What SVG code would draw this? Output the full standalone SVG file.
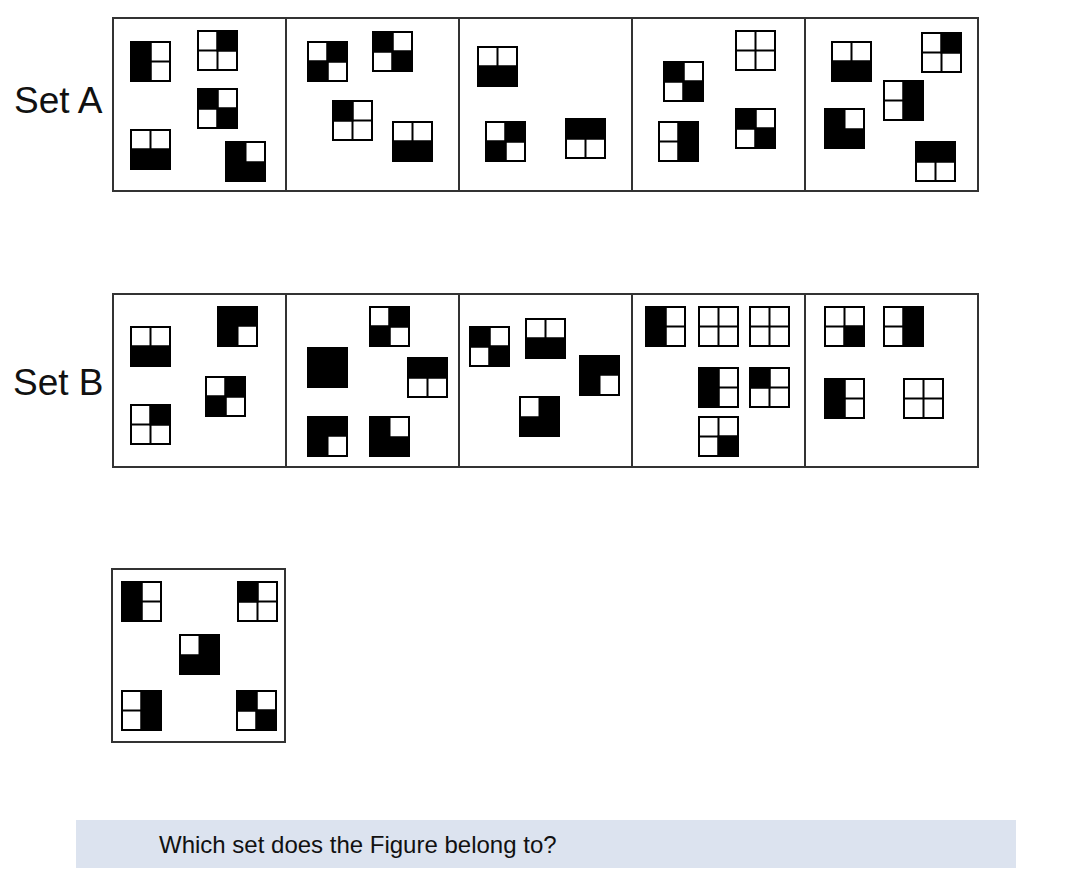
<svg xmlns="http://www.w3.org/2000/svg" xmlns:xlink="http://www.w3.org/1999/xlink" width="1084" height="886" viewBox="0 0 1084 886">
<style>
.panel{fill:#fff;stroke:#333;stroke-width:2}
.lbl{font-family:"Liberation Sans",Arial,sans-serif;font-size:37px;fill:#111}
.q{font-family:"Liberation Sans",Arial,sans-serif;font-size:24px;fill:#111}
.bg{fill:#fff}
.k{fill:#000}
.grid{fill:none;stroke:#000;stroke-width:2}
</style>
<defs>
<g id="base"><path class="grid" d="M20.5 0V41M0 20.5H41"/><rect class="grid" x="1" y="1" width="39" height="39"/></g>
<g id="p0000"><rect class="bg" width="41" height="41"/><use href="#base"/></g>
<g id="p1111"><rect class="k" width="41" height="41"/></g>
<g id="p1010"><rect class="bg" width="41" height="41"/><use href="#base"/><rect class="k" width="21.5" height="41"/></g>
<g id="p0101"><rect class="bg" width="41" height="41"/><use href="#base"/><rect class="k" x="19.5" width="21.5" height="41"/></g>
<g id="p0011"><rect class="bg" width="41" height="41"/><use href="#base"/><rect class="k" y="19.5" width="41" height="21.5"/></g>
<g id="p1100"><rect class="bg" width="41" height="41"/><use href="#base"/><rect class="k" width="41" height="21.5"/></g>
<g id="p0100"><rect class="bg" width="41" height="41"/><use href="#base"/><rect class="k" x="19.5" width="21.5" height="21.5"/></g>
<g id="p1000"><rect class="bg" width="41" height="41"/><use href="#base"/><rect class="k" width="21.5" height="21.5"/></g>
<g id="p0001"><rect class="bg" width="41" height="41"/><use href="#base"/><rect class="k" x="19.5" y="19.5" width="21.5" height="21.5"/></g>
<g id="p1001"><rect class="bg" width="41" height="41"/><use href="#base"/><rect class="k" width="21.5" height="21.5"/><rect class="k" x="19.5" y="19.5" width="21.5" height="21.5"/></g>
<g id="p0110"><rect class="bg" width="41" height="41"/><use href="#base"/><rect class="k" x="19.5" width="21.5" height="21.5"/><rect class="k" y="19.5" width="21.5" height="21.5"/></g>
<g id="p1011"><rect class="k" width="41" height="41"/><rect class="bg" x="20.5" y="2" width="18.5" height="18.5"/><path class="grid" d="M20.5 1V21.5H40"/><rect class="grid" x="1" y="1" width="39" height="39"/></g>
<g id="p1110"><rect class="k" width="41" height="41"/><rect class="bg" x="20.5" y="20.5" width="18.5" height="18.5"/><path class="grid" d="M20.5 40V19.5H40"/><rect class="grid" x="1" y="1" width="39" height="39"/></g>
<g id="p0111"><rect class="k" width="41" height="41"/><rect class="bg" x="2" y="2" width="18.5" height="18.5"/><path class="grid" d="M20.5 1V21.5H1"/><rect class="grid" x="1" y="1" width="39" height="39"/></g>
</defs>
<rect width="1084" height="886" fill="#fff"/>
<text class="lbl" x="14" y="113">Set A</text>
<text class="lbl" x="13" y="395">Set B</text>

<g id="setA">
<g id="a1"><rect class="panel" x="113" y="18" width="173" height="173"/>
<use href="#p1010" x="130" y="41"/><use href="#p0100" x="197" y="30"/><use href="#p1001" x="197" y="88"/><use href="#p0011" x="130" y="129"/><use href="#p1011" x="225" y="141"/></g>
<g id="a2"><rect class="panel" x="286" y="18" width="173" height="173"/>
<use href="#p0110" x="307" y="41"/><use href="#p1001" x="372" y="31"/><use href="#p1000" x="332" y="100"/><use href="#p0011" x="392" y="121"/></g>
<g id="a3"><rect class="panel" x="459" y="18" width="173" height="173"/>
<use href="#p0011" x="477" y="46"/><use href="#p0110" x="485" y="121"/><use href="#p1100" x="565" y="118"/></g>
<g id="a4"><rect class="panel" x="632" y="18" width="173" height="173"/>
<use href="#p0000" x="735" y="30"/><use href="#p1001" x="663" y="61"/><use href="#p0101" x="658" y="121"/><use href="#p1001" x="735" y="108"/></g>
<g id="a5"><rect class="panel" x="805" y="18" width="173" height="173"/>
<use href="#p0011" x="831" y="41"/><use href="#p0100" x="921" y="32"/><use href="#p0101" x="883" y="80"/><use href="#p1011" x="824" y="108"/><use href="#p1100" x="915" y="141"/></g>
</g>

<g id="setB">
<g id="b1"><rect class="panel" x="113" y="294" width="173" height="173"/>
<use href="#p0011" x="130" y="326"/><use href="#p1110" x="217" y="306"/><use href="#p0110" x="205" y="376"/><use href="#p0100" x="130" y="404"/></g>
<g id="b2"><rect class="panel" x="286" y="294" width="173" height="173"/>
<use href="#p0110" x="369" y="306"/><use href="#p1111" x="307" y="347"/><use href="#p1100" x="407" y="357"/><use href="#p1110" x="307" y="416"/><use href="#p1011" x="369" y="416"/></g>
<g id="b3"><rect class="panel" x="459" y="294" width="173" height="173"/>
<use href="#p1001" x="469" y="326"/><use href="#p0011" x="525" y="318"/><use href="#p1110" x="579" y="355"/><use href="#p0111" x="519" y="396"/></g>
<g id="b4"><rect class="panel" x="632" y="294" width="173" height="173"/>
<use href="#p1010" x="645" y="306"/><use href="#p0000" x="698" y="306"/><use href="#p0000" x="749" y="306"/><use href="#p1010" x="698" y="367"/><use href="#p1000" x="749" y="367"/><use href="#p0001" x="698" y="416"/></g>
<g id="b5"><rect class="panel" x="805" y="294" width="173" height="173"/>
<use href="#p0001" x="824" y="306"/><use href="#p0101" x="883" y="306"/><use href="#p1010" x="824" y="378"/><use href="#p0000" x="903" y="378"/></g>
</g>

<g id="test"><rect class="panel" x="112" y="569" width="173" height="173"/>
<use href="#p1010" x="121" y="581"/><use href="#p1000" x="237" y="581"/><use href="#p0111" x="179" y="634"/><use href="#p0101" x="121" y="690"/><use href="#p1001" x="236" y="690"/></g>

<g id="question"><rect x="76" y="820" width="940" height="48" fill="#dce3ef"/>
<text class="q" x="159" y="853">Which set does the Figure belong to?</text></g>
</svg>
